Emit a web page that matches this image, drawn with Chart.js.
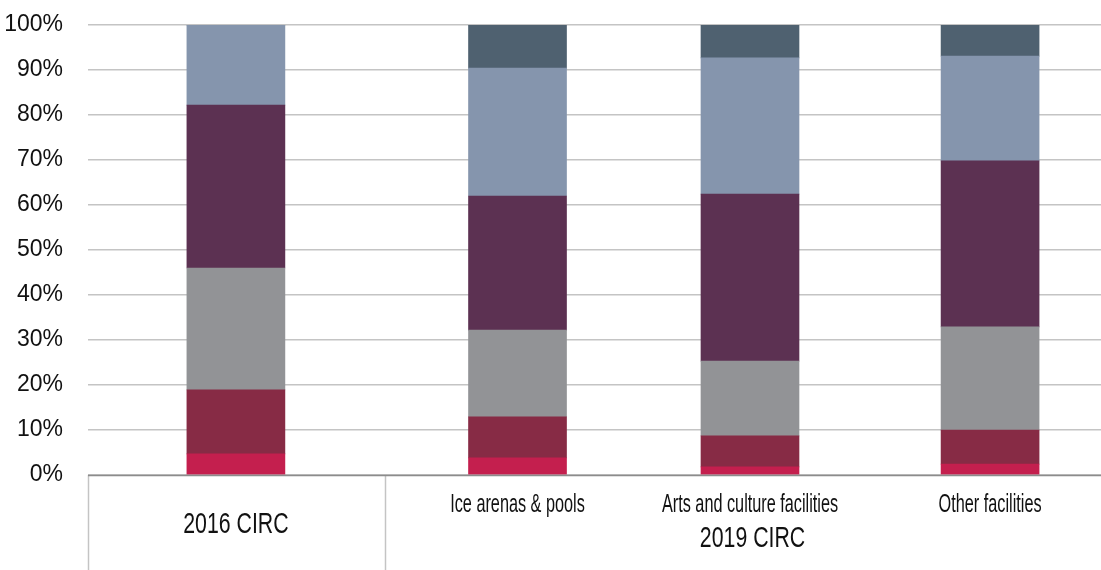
<!DOCTYPE html>
<html>
<head>
<meta charset="utf-8">
<script src="https://cdn.jsdelivr.net/npm/chart.js@4.4.1/dist/chart.umd.min.js"></script>
<style>
  html, body { margin: 0; padding: 0; background: #fff; }
</style>
</head>
<body>
<canvas id="circChart" width="1101" height="570"></canvas>
<script>
// category axis (two levels)
const groups = ['2016 CIRC', '2019 CIRC'];
const categories = ['', 'Ice arenas & pools', 'Arts and culture facilities', 'Other facilities'];
const categoryGroup = [0, 1, 1, 1];
const slots = [1.46, 4.24, 6.535, 8.905]; // where each bar sits on the 0-10 x axis
const groupSplit = 2.93;

const yTicks = [0, 10, 20, 30, 40, 50, 60, 70, 80, 90, 100];

// shares in %, bottom to top
const seriesNames = ['Series 1', 'Series 2', 'Series 3', 'Series 4', 'Series 5', 'Series 6'];
const series1 = [4.7, 3.8, 1.8, 2.4];
const series2 = [14.2, 9.1, 6.9, 7.6];
const series3 = [27.1, 19.3, 16.6, 22.9];
const series4 = [36.2, 29.8, 37.1, 36.9];
const series5 = [17.8, 28.4, 30.3, 23.3];
const series6 = [0, 9.6, 7.3, 6.9];

const colors = ['#c41f4e', '#872b45', '#929396', '#5c3152', '#8595ad', '#4f6170'];

const TEXT = '#111';
const FONT = '"Liberation Sans", Arial, sans-serif';

function squeezedText(ctx, text, x, y, font, squeeze) {
    ctx.font = font;
    const w = ctx.measureText(text).width;
    ctx.fillText(text, x, y, w * squeeze);
}

// draws the two-level category axis under the plot
const groupAxis = {
    id: 'groupAxis',
    afterDraw(chart) {
        const { ctx, chartArea, scales: { x } } = chart;
        const base = chartArea.bottom;
        ctx.save();

        ctx.strokeStyle = '#c4c4c4';
        ctx.lineWidth = 1.5;
        [x.min, groupSplit].forEach(v => {
            const px = Math.round(x.getPixelForValue(v)) + 0.5;
            ctx.beginPath();
            ctx.moveTo(px, base);
            ctx.lineTo(px, chart.height);
            ctx.stroke();
        });

        ctx.strokeStyle = '#8c8c8c';
        ctx.lineWidth = 1.5;
        ctx.beginPath();
        ctx.moveTo(chartArea.left, base + 0.5);
        ctx.lineTo(chartArea.right, base + 0.5);
        ctx.stroke();

        ctx.fillStyle = TEXT;
        ctx.textAlign = 'center';
        ctx.textBaseline = 'alphabetic';

        categories.forEach((label, i) => {
            if (!label) return;
            squeezedText(ctx, label, x.getPixelForValue(slots[i]), base + 36.5,
                '25px ' + FONT, 0.65);
        });

        groups.forEach((label, g) => {
            const idx = categoryGroup.map((c, i) => c === g ? i : -1).filter(i => i >= 0);
            const mid = idx.reduce((s, i) => s + slots[i], 0) / idx.length;
            const hasSub = idx.some(i => categories[i]);
            squeezedText(ctx, label, x.getPixelForValue(mid), base + (hasSub ? 71.5 : 58),
                '30px ' + FONT, 0.71);
        });

        ctx.restore();
    }
};

const allSeries = [series1, series2, series3, series4, series5, series6];

const ctx = document.getElementById('circChart').getContext('2d');

const circChart = new Chart(ctx, {
    type: 'bar',
    data: {
        datasets: allSeries.map((vals, s) => ({
            label: seriesNames[s],
            data: slots.map((pos, i) => ({ x: pos, y: vals[i] })),
            backgroundColor: colors[s],
            borderWidth: 0,
            barThickness: 98
        }))
    },
    options: {
        responsive: false,
        animation: false,
        devicePixelRatio: 1,
        layout: {
            padding: { top: 25, right: 0, bottom: 95, left: 0 }
        },
        plugins: {
            legend: { display: false },
            tooltip: { enabled: false }
        },
        scales: {
            x: {
                type: 'linear',
                stacked: true,
                offset: false,
                min: 0,
                max: 10,
                display: false
            },
            y: {
                stacked: true,
                min: 0,
                max: 100,
                afterBuildTicks: (scale) => {
                    scale.ticks = yTicks.map(v => ({ value: v }));
                },
                afterFit: (scale) => {
                    scale.width = 88;
                    scale.paddingTop = 0;
                    scale.paddingBottom = 0;
                },
                grid: {
                    color: '#c4c4c4',
                    lineWidth: 1.5,
                    drawTicks: false
                },
                border: { display: false },
                ticks: {
                    padding: 25,
                    color: TEXT,
                    font: { family: FONT, size: 23 },
                    callback: (v) => v + '%'
                }
            }
        }
    },
    plugins: [groupAxis]
});
</script>
</body>
</html>
